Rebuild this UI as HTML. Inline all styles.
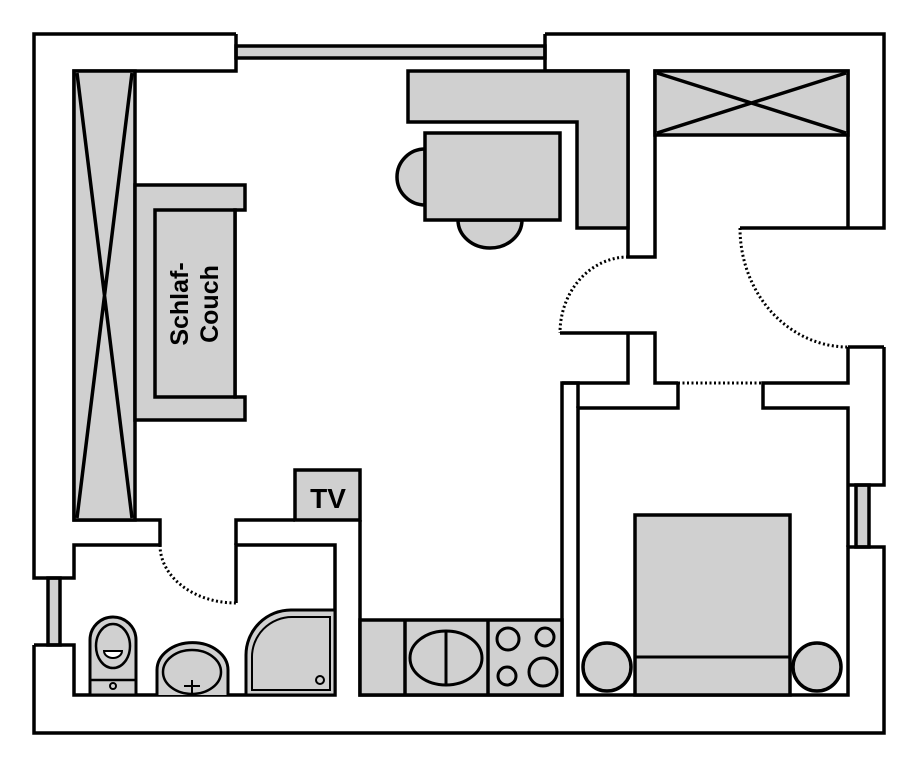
<!DOCTYPE html>
<html><head><meta charset="utf-8"><style>
html,body{margin:0;padding:0;background:#fff;width:919px;height:768px;overflow:hidden}
svg{display:block}
text{font-family:"Liberation Sans",sans-serif}
</style></head><body>
<svg width="919" height="768" viewBox="0 0 919 768" xmlns="http://www.w3.org/2000/svg">
<g fill="none" stroke="#000" stroke-width="3.5" stroke-linejoin="miter">
<rect x="236" y="46" width="309" height="12" fill="#d0d0d0"/>
<rect x="48" y="578" width="12" height="67" fill="#d0d0d0"/>
<rect x="856" y="485" width="13" height="62" fill="#d0d0d0"/>
<path d="M236,34 H34 V578 H74 V545 H160 V520 H74 V71 H236 V34"/>
<path d="M34,645 H74 V695 H335 V545 H236 V603"/>
<path d="M34,645 V733 H884 V547 H848 V695 H578 V408 H678 V383"/>
<path d="M236,545 V520 H295 M360,520 V695 H562 V383 H578 V408"/>
<path d="M545,34 H884 V228 H740 M848,228 V71 H655 V257 H628 V71 H545 V34"/>
<path d="M560,333 H655 V383 H678 M628,333 V383 H562"/>
<path d="M884,347 V485 H848 M848,547 V485 M848,347 H884 M848,347 V383 H763 V408 H848 V485"/>
<path d="M628,257 A68,76 0 0 0 560,333" stroke-dasharray="2,2.5" stroke-width="3"/>
<path d="M740,228 A108,119 0 0 0 848,347" stroke-dasharray="2,2.5" stroke-width="3"/>
<path d="M160,545 A76,58 0 0 0 236,603" stroke-dasharray="2,2.5" stroke-width="3"/>
<path d="M678,383 H763" stroke-dasharray="2,2.5" stroke-width="3"/>
<rect x="74" y="71" width="61" height="449" fill="#d0d0d0"/>
<path d="M77,73 L132,518 M132,73 L77,518"/>
<path d="M135,185 H245 V210 H235 V397 H245 V420 H135 Z" fill="#d0d0d0"/>
<rect x="155" y="210" width="80" height="187" fill="#d0d0d0"/>
<path d="M408,71 H628 V228 H577 V122 H408 Z" fill="#d0d0d0"/>
<path d="M425,149 A28,28 0 0 0 425,205 Z" fill="#d0d0d0"/>
<path d="M458,220 A32,28 0 0 0 522,220 Z" fill="#d0d0d0"/>
<rect x="425" y="133" width="135" height="87" fill="#d0d0d0"/>
<rect x="655" y="71" width="193" height="64" fill="#d0d0d0"/>
<path d="M657,73 L846,133 M846,73 L657,133"/>
<rect x="295" y="470" width="65" height="50" fill="#d0d0d0"/>
<rect x="360" y="620" width="202" height="75" fill="#d0d0d0"/>
<path d="M405,620 V695 M488,620 V695"/>
<ellipse cx="446" cy="658" rx="36" ry="27" stroke-width="3"/>
<path d="M446,631 V685" stroke-width="3"/>
<g stroke-width="3"><circle cx="508" cy="639" r="11"/><circle cx="545" cy="637" r="9"/><circle cx="507" cy="676" r="9"/><circle cx="543" cy="672" r="14"/></g>
<rect x="635" y="515" width="155" height="180" fill="#d0d0d0"/>
<path d="M635,657 H790" stroke-width="3"/>
<circle cx="607" cy="667" r="24" fill="#d0d0d0"/>
<circle cx="817" cy="667" r="24" fill="#d0d0d0"/>
<path d="M90,695 V640 A23,23 0 0 1 136,640 V695 Z" fill="#d0d0d0" stroke-width="3"/>
<path d="M90,680 H136" stroke-width="2.5"/>
<ellipse cx="113" cy="646" rx="17" ry="22" stroke-width="2.5" fill="#d0d0d0"/>
<path d="M104,651 H122 A9,7 0 0 1 104,651 Z" fill="#fff" stroke-width="2"/>
<circle cx="113" cy="686" r="3" stroke-width="2"/>
<path d="M157,695 V670 A35,27 0 0 1 228,670 V695" fill="#d0d0d0" stroke-width="3"/>
<ellipse cx="192" cy="672" rx="29" ry="22" stroke-width="2.5" fill="#d0d0d0"/>
<path d="M192,680 V694 M184,686 H200" stroke-width="2"/>
<path d="M246,695 V655 A45,45 0 0 1 291,610 H335 V695 Z" fill="#d0d0d0" stroke-width="3"/>
<path d="M252,690 V658 A40,40 0 0 1 292,617 H330 V690 Z" stroke-width="2"/>
<circle cx="320" cy="680" r="4" stroke-width="2"/>
</g>
<text x="0" y="0" transform="translate(188,304) rotate(-90)" text-anchor="middle" font-size="25" font-weight="bold" fill="#000">Schlaf-</text>
<text x="0" y="0" transform="translate(218,304) rotate(-90)" text-anchor="middle" font-size="25" font-weight="bold" fill="#000">Couch</text>
<text x="328" y="508" text-anchor="middle" font-size="28" font-weight="bold" fill="#000">TV</text>
</svg>
</body></html>
